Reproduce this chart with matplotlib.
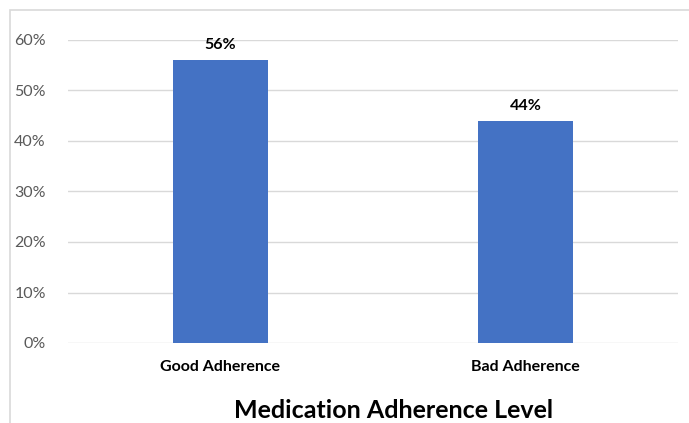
import matplotlib.pyplot as plt
from matplotlib.patches import Rectangle
from matplotlib.ticker import PercentFormatter

categories = ["Good Adherence", "Bad Adherence"]
shares = [0.56, 0.44]
yticks = [0, 0.1, 0.2, 0.3, 0.4, 0.5, 0.6]

plt.rcParams["font.family"] = ["Lato", "DejaVu Sans"]

fig = plt.figure(figsize=(6.89, 4.23), dpi=100)
ax = fig.add_axes([68 / 689, 1 - 343 / 423, 610 / 689, 303 / 423])

# chart frame, runs off the right and bottom edges
fig.patches.append(Rectangle((10 / 689, -0.05), 2, 1 - 10 / 423 + 0.05,
                             transform=fig.transFigure, fill=False,
                             edgecolor="#d9d9d9", linewidth=1.2))

x = range(len(categories))
bars = ax.bar(x, shares, width=0.31, color="#4472c4", zorder=3)
for b, v in zip(bars, shares):
    ax.text(b.get_x() + b.get_width() / 2, v + 0.016, f"{v:.0%}",
            ha="center", va="bottom", fontsize=11.5, fontweight="bold",
            color="#000000")

ax.set_xlim(-0.5, 1.5)
ax.set_ylim(0, 0.6)
ax.set_yticks(yticks)
ax.yaxis.set_major_formatter(PercentFormatter(1.0, decimals=0))
ax.set_xticks(list(x))
ax.set_xticklabels(categories, fontsize=11.5, fontweight="bold")
ax.tick_params(axis="y", length=0, pad=16, labelsize=11.5, labelcolor="#595959")
ax.tick_params(axis="x", length=0, pad=12)
ax.grid(axis="y", color="#d9d9d9", linewidth=1, zorder=0)
for s in ax.spines.values():
    s.set_visible(False)

fig.text(394 / 689, 1 - 410 / 423, "Medication Adherence Level",
         ha="center", va="center", fontsize=18, fontweight="bold")

fig.savefig("out.png", dpi=100)
